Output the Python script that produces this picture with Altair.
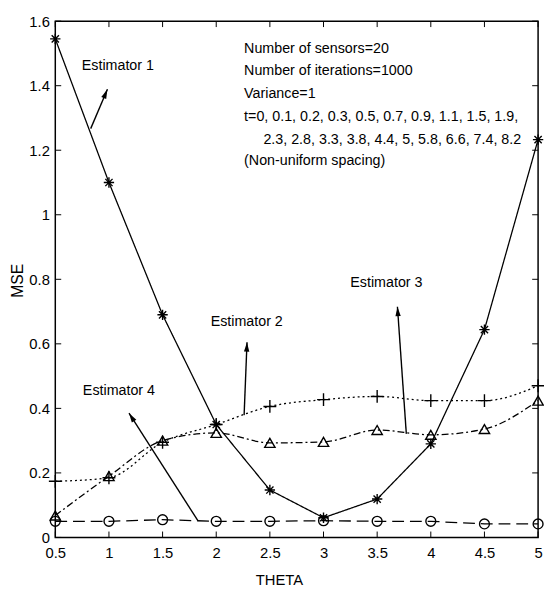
import math
import altair as alt
import pandas as pd

FONT = "Liberation Sans"
W, H = 490, 524
XMIN, XMAX, YMIN, YMAX = 0.5, 5.0, 0.0, 1.6

theta = [0.5, 1.0, 1.5, 2.0, 2.5, 3.0, 3.5, 4.0, 4.5, 5.0]
est1 = [1.545, 1.10, 0.69, 0.35, 0.147, 0.061, 0.119, 0.29, 0.644, 1.233]
est2 = [0.174, 0.185, 0.295, 0.35, 0.406, 0.427, 0.437, 0.424, 0.424, 0.47]
est3 = [0.068, 0.19, 0.30, 0.324, 0.293, 0.296, 0.333, 0.318, 0.336, 0.424]
est4 = [0.05, 0.05, 0.055, 0.05, 0.05, 0.052, 0.05, 0.05, 0.042, 0.042]

x_ticks = [0.5, 1.0, 1.5, 2.0, 2.5, 3.0, 3.5, 4.0, 4.5, 5.0]
y_ticks = [0, 0.2, 0.4, 0.6, 0.8, 1.0, 1.2, 1.4, 1.6]

label_names = ["Estimator 1", "Estimator 2", "Estimator 3", "Estimator 4"]
label_x = [0.747, 1.948, 3.250, 0.757]
label_y = [1.460, 0.666, 0.788, 0.455]

arrow_x1 = [0.830, 2.260, 3.772, 1.829]
arrow_y1 = [1.267, 0.379, 0.321, 0.052]
arrow_x2 = [0.986, 2.287, 3.689, 1.187]
arrow_y2 = [1.389, 0.605, 0.715, 0.385]

info_lines = [
    "Number of sensors=20",
    "Number of iterations=1000",
    "Variance=1",
    "t=0, 0.1, 0.2, 0.3, 0.5, 0.7, 0.9, 1.1, 1.5, 1.9,",
    "2.3, 2.8, 3.3, 3.8, 4.4, 5, 5.8, 6.6, 7.4, 8.2",
    "(Non-uniform spacing)",
]
info_x = [2.26, 2.26, 2.26, 2.26, 2.44, 2.26]
info_y = [1.515, 1.445, 1.374, 1.303, 1.233, 1.166]

xs = alt.Scale(domain=[XMIN, XMAX], nice=False, zero=False)
ys = alt.Scale(domain=[YMIN, YMAX], nice=False, zero=False)

series = [
    ("Estimator 1", est1, [1, 0], "linear",
     "M-1,0L1,0M0,-1L0,1M-0.7,-0.7L0.7,0.7M-0.7,0.7L0.7,-0.7", 110),
    ("Estimator 2", est2, [2, 3], "monotone", "M-1,0L1,0M0,-1L0,1", 170),
    ("Estimator 3", est3, [7, 3, 2, 3], "monotone", "triangle-up", 110),
    ("Estimator 4", est4, [12, 6], "linear", "circle", 100),
]

layers = []
base_x = alt.X("theta:Q", scale=xs,
               axis=alt.Axis(values=x_ticks, format="~g", title="THETA",
                             domain=False, ticks=False, grid=False, labelFlush=False,
                             labelFont=FONT, labelFontSize=15, labelPadding=8,
                             labelColor="black",
                             titleFont=FONT, titleFontSize=15, titleFontWeight="normal",
                             titleColor="black", titleX=227, titleY=43,
                             titleAnchor="start", titleAlign="center",
                             titleBaseline="middle"))
base_y = alt.Y("mse:Q", scale=ys,
               axis=alt.Axis(values=y_ticks, format="~g", title="MSE",
                             domain=False, ticks=False, grid=False, labelFlush=False,
                             labelFont=FONT, labelFontSize=15, labelPadding=6,
                             labelColor="black",
                             titleFont=FONT, titleFontSize=16,
                             titleFontWeight="normal", titleColor="black",
                             titleX=-38, titleY=263, titleAngle=270,
                             titleAnchor="start", titleAlign="center",
                             titleBaseline="middle"))

for i, (name, vals, dash, interp, shape, size) in enumerate(series):
    df = pd.DataFrame({"theta": theta, "mse": vals})
    ax_x = base_x if i == 0 else alt.X("theta:Q", scale=xs)
    ax_y = base_y if i == 0 else alt.Y("mse:Q", scale=ys)
    line = alt.Chart(df).mark_line(color="black", strokeWidth=1.3,
                                   strokeDash=dash, interpolate=interp).encode(x=ax_x, y=ax_y)
    pts = alt.Chart(df).mark_point(shape=shape, size=size, filled=False,
                                   color="black", strokeWidth=1.4, opacity=1).encode(
        x=alt.X("theta:Q", scale=xs), y=alt.Y("mse:Q", scale=ys))
    layers += [line, pts]

# inner tick marks on all four sides
xt = pd.DataFrame({"v": x_ticks})
yt = pd.DataFrame({"v": y_ticks})
tick_style = dict(color="black", strokeWidth=1)
layers.append(alt.Chart(xt).mark_rule(**tick_style).encode(
    x=alt.X("v:Q", scale=xs), y=alt.value(H), y2=alt.value(H - 6)))
layers.append(alt.Chart(xt).mark_rule(**tick_style).encode(
    x=alt.X("v:Q", scale=xs), y=alt.value(0), y2=alt.value(6)))
layers.append(alt.Chart(yt).mark_rule(**tick_style).encode(
    y=alt.Y("v:Q", scale=ys), x=alt.value(0), x2=alt.value(6)))
layers.append(alt.Chart(yt).mark_rule(**tick_style).encode(
    y=alt.Y("v:Q", scale=ys), x=alt.value(W), x2=alt.value(W - 6)))

# arrows
px_x = W / (XMAX - XMIN)
px_y = H / (YMAX - YMIN)
angles = []
for a, b, c, d in zip(arrow_x1, arrow_y1, arrow_x2, arrow_y2):
    ang = math.degrees(math.atan2((c - a) * px_x, (d - b) * px_y)) % 360
    angles.append(ang)
arr = pd.DataFrame({"x1": arrow_x1, "y1": arrow_y1, "x2": arrow_x2, "y2": arrow_y2,
                    "ang": angles})
layers.append(alt.Chart(arr).mark_rule(color="black", strokeWidth=1.4).encode(
    x=alt.X("x1:Q", scale=xs), y=alt.Y("y1:Q", scale=ys),
    x2="x2:Q", y2="y2:Q"))
layers.append(alt.Chart(arr).mark_point(
    shape="M0,0L0.45,1.6L-0.45,1.6Z", size=144, filled=True, color="black",
    opacity=1, strokeWidth=0).encode(
    x=alt.X("x2:Q", scale=xs), y=alt.Y("y2:Q", scale=ys),
    angle=alt.Angle("ang:Q", scale=None)))

# labels
lab = pd.DataFrame({"t": label_names, "x": label_x, "y": label_y})
layers.append(alt.Chart(lab).mark_text(font=FONT, fontSize=14.5, align="left",
                                       baseline="middle", color="black").encode(
    x=alt.X("x:Q", scale=xs), y=alt.Y("y:Q", scale=ys), text="t:N"))

info = pd.DataFrame({"t": info_lines, "x": info_x, "y": info_y})
layers.append(alt.Chart(info).mark_text(font=FONT, fontSize=14.5, align="left",
                                        baseline="middle", color="black").encode(
    x=alt.X("x:Q", scale=xs), y=alt.Y("y:Q", scale=ys), text="t:N"))

chart = alt.layer(*layers).properties(
    width=W, height=H,
    autosize=alt.AutoSizeParams(type="none"),
    padding={"left": 48, "top": 9, "right": 6, "bottom": 50},
    background="white",
).configure_view(stroke="black", strokeWidth=1.5)

chart.save("out.html", embed_options={"renderer": "svg", "actions": False})
